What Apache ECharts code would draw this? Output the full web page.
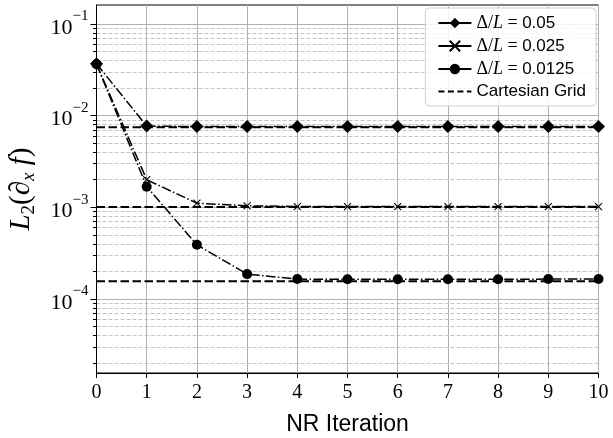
<!DOCTYPE html>
<html>
<head>
<meta charset="utf-8">
<script src="https://cdn.jsdelivr.net/npm/echarts@6/dist/echarts.min.js"></script>
<style>
  html, body { margin: 0; padding: 0; background: #fff; }
  #chart { width: 613px; height: 438px; }
</style>
</head>
<body>
<div id="chart"></div>
<script>
// Newton–Raphson iteration index
const iterations = [0, 1, 2, 3, 4, 5, 6, 7, 8, 9, 10];

// L2 error of the x-derivative for each grid spacing
const errDelta005   = [0.0368, 0.0077, 0.0076, 0.0076, 0.0076, 0.0076, 0.0076, 0.0076, 0.0076, 0.0076, 0.0076];
const errDelta0025  = [0.0366, 0.00200, 0.00111, 0.00104, 0.00102, 0.00102, 0.00102, 0.00102, 0.00102, 0.00102, 0.00102];
const errDelta00125 = [0.0364, 0.00168, 0.00039, 0.000187, 0.000165, 0.000164, 0.000164, 0.000164, 0.000164, 0.000165, 0.000165];

// Reference error levels of the Cartesian grid solutions
const cartesianLevels = [0.00748, 0.00101, 0.000156];

// Axis settings
const xTicks = [0, 1, 2, 3, 4, 5, 6, 7, 8, 9, 10];
const yMajorExponents = [-4, -3, -2, -1];
const yMin = 1.56e-5;
const yMax = 0.161;

const seriesNames = ['Δ/L = 0.05', 'Δ/L = 0.025', 'Δ/L = 0.0125'];
const cartesianName = 'Cartesian Grid';

// ---- helpers -------------------------------------------------------------
const lg = Math.log10;
const toPoints = (ys) => iterations.map((x, i) => [x, lg(ys[i])]);

const minorTicks = [];
for (let e = -5; e <= -1; e++) {
  for (let k = 2; k <= 9; k++) {
    const v = k * Math.pow(10, e);
    if (v > yMin && v < yMax) minorTicks.push(lg(v));
  }
}

const serif = '"Liberation Serif", "DejaVu Serif", serif';
const sans = '"Liberation Sans", "DejaVu Sans", sans-serif';
const dashDot = [9.6, 2.4, 1.5, 2.4];
const dashed = [8.5, 3.5];

function curve(name, ys, symbol, size) {
  return {
    name, type: 'line', data: toPoints(ys),
    symbol, symbolSize: size, showSymbol: true,
    lineStyle: { color: '#000', width: 1.5, type: dashDot },
    itemStyle: { color: '#000', borderColor: '#000', borderWidth: symbol.startsWith('path') ? 1.1 : 0 },
    emphasis: { disabled: true }, animation: false, z: 3
  };
}

const crossSymbol = 'path://M0,0L10,10M10,0L0,10';

const series = [
  curve(seriesNames[0], errDelta005, 'diamond', 13),
  curve(seriesNames[1], errDelta0025, crossSymbol, 7),
  curve(seriesNames[2], errDelta00125, 'circle', 10)
];
cartesianLevels.forEach((lvl) => {
  series.push({
    name: cartesianName, type: 'line',
    data: [[xTicks[0], lg(lvl)], [xTicks[xTicks.length - 1], lg(lvl)]],
    symbol: 'none', showSymbol: false,
    lineStyle: { color: '#000', width: 2, type: dashed },
    itemStyle: { color: '#000' },
    emphasis: { disabled: true }, animation: false, z: 4
  });
});

const legendRich = {
  m: { fontFamily: serif, fontSize: 18, color: '#000' },
  mi: { fontFamily: serif, fontStyle: 'italic', fontSize: 18, color: '#000' },
  n: { fontFamily: sans, fontSize: 17, color: '#000' }
};

const option = {
  backgroundColor: '#fff',
  animation: false,
  grid: {
    left: 96.5, right: 14.5, top: 5, bottom: 65,
    outerBoundsMode: 'none', containLabel: false,
    show: true, borderColor: '#000', borderWidth: 1, backgroundColor: 'transparent'
  },
  legend: {
    orient: 'vertical', right: 17, top: 8,
    itemWidth: 33, itemHeight: 13, itemGap: 5,
    padding: [6, 10, 6, 12],
    backgroundColor: 'rgba(255,255,255,0.85)',
    borderColor: '#d0d0d0', borderWidth: 1, borderRadius: 4,
    data: [
      { name: seriesNames[0], lineStyle: { type: 'solid' } },
      { name: seriesNames[1], lineStyle: { type: 'solid' } },
      { name: seriesNames[2], lineStyle: { type: 'solid' } },
      { name: cartesianName, lineStyle: { type: [6, 3.5], width: 2 },
        itemStyle: { color: 'transparent', borderWidth: 0 } }
    ],
    formatter: (name) => {
      if (name === cartesianName) return '{n|' + name + '}';
      const val = name.split('= ')[1];
      return '{m|Δ/}{mi|L}{m| = }{n|' + val + '}';
    },
    textStyle: { rich: legendRich, fontSize: 17 }
  },
  xAxis: {
    type: 'value', min: 0, max: 10, interval: 1,
    name: 'NR Iteration', nameLocation: 'middle', nameGap: 40,
    nameTextStyle: { fontFamily: sans, fontSize: 23, color: '#000' },
    axisLine: { lineStyle: { color: '#000', width: 1 } },
    axisTick: { show: true, length: 5, lineStyle: { color: '#000' } },
    axisLabel: { fontFamily: serif, fontSize: 20, color: '#000', margin: 10 },
    splitLine: { show: true, lineStyle: { color: '#b0b0b0', width: 1 } }
  },
  yAxis: [
    {
      type: 'value', min: lg(yMin), max: lg(yMax), position: 'left',
      name: '{i|L}{sub|2}{r|(∂}{subi|x}{i| f}{r|)}',
      nameLocation: 'middle', nameGap: 58, nameRotate: 90,
      nameTextStyle: {
        rich: {
          i: { fontFamily: serif, fontStyle: 'italic', fontSize: 29, lineHeight: 32, verticalAlign: 'top', color: '#000' },
          r: { fontFamily: serif, fontSize: 29, lineHeight: 32, verticalAlign: 'top', color: '#000' },
          sub: { fontFamily: serif, fontSize: 19, lineHeight: 16, verticalAlign: 'bottom', color: '#000' },
          subi: { fontFamily: serif, fontStyle: 'italic', fontSize: 19, lineHeight: 16, verticalAlign: 'bottom', color: '#000' }
        }
      },
      axisLine: { show: true, lineStyle: { color: '#000', width: 1 } },
      axisTick: { show: true, length: 6, customValues: yMajorExponents, lineStyle: { color: '#000' } },
      axisLabel: {
        customValues: yMajorExponents, margin: 8,
        formatter: (v) => '{b|10}{s|−' + Math.round(-v) + '}',
        rich: {
          b: { fontFamily: serif, fontSize: 22, lineHeight: 30, verticalAlign: 'bottom', color: '#000' },
          s: { fontFamily: serif, fontSize: 15, lineHeight: 15, verticalAlign: 'top', color: '#000' }
        }
      },
      splitLine: { show: true, lineStyle: { color: '#b0b0b0', width: 1 } }
    },
    {
      type: 'value', min: lg(yMin), max: lg(yMax), position: 'left',
      axisLine: { show: false },
      axisTick: { show: true, length: 3.5, customValues: minorTicks, lineStyle: { color: '#000' } },
      axisLabel: { show: false },
      splitLine: { show: true, lineStyle: { color: '#c4c4c4', width: 1, type: [4, 2] } }
    }
  ],
  series
};

const chart = echarts.init(document.getElementById('chart'), null, { renderer: 'canvas' });
chart.setOption(option);
</script>
</body>
</html>
